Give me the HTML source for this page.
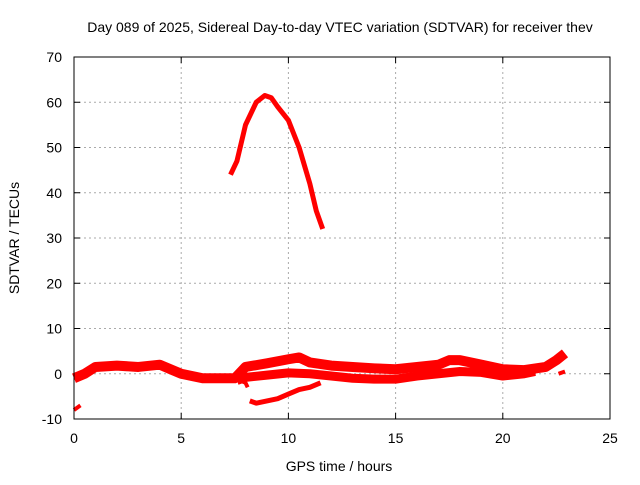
<!DOCTYPE html>
<html><head><meta charset="utf-8"><style>
body{margin:0;background:#fff}
svg{font-family:"Liberation Sans",sans-serif;font-size:14px}
</style></head><body>
<svg id="c" width="640" height="480">
<text x="340" y="32" text-anchor="middle">Day 089 of 2025, Sidereal Day-to-day VTEC variation (SDTVAR) for receiver thev</text>
<text x="339" y="471" text-anchor="middle">GPS time / hours</text>
<text transform="translate(19,238) rotate(-90)" text-anchor="middle">SDTVAR / TECUs</text>
<g id="grid"></g><g id="marks"></g>
<rect x="74" y="57" width="536" height="362" fill="none" stroke="#000"/>
</svg>
<script>
const xTicks=[0,5,10,15,20,25];
const yTicks=[-10,0,10,20,30,40,50,60,70];
const peakX=[7.3,7.6,8.0,8.5,8.9,9.2,9.5,10.0,10.5,11.0,11.3,11.6];
const peakY=[44,47,55,60,61.5,61,59,56,50,42,36,32];
const bandX=[0,0.5,1,2,3,4,4.5,5,6,7,7.5,8,9,10,10.5,11,12,13,14,15,16,17,17.5,18,19,20,21,22,22.5,22.9];
const bandY=[-1,0,1.5,1.8,1.5,2,1,0,-1,-1,-1,1.5,2.3,3.2,3.6,2.5,1.8,1.5,1.2,1,1.5,2,3,3,2,1,0.8,1.5,3,4.5];
const band2X=[7.6,8,9,10,11,12,13,14,15,16,17,18,19,20,21,21.5];
const band2Y=[-1.5,-0.8,-0.3,0.2,0,-0.5,-1,-1.2,-1.2,-0.5,0,0.5,0.3,-0.5,0,0.5];
const lowX=[8.2,8.5,9,9.5,10,10.5,11,11.5];
const lowY=[-6,-6.5,-6,-5.5,-4.5,-3.5,-3,-2];
const dip1X=[7.5,8.0,8.1];const dip1Y=[-1,-2,-3];
const dash1X=[0,0.3];const dash1Y=[-8,-7];
const dash2X=[22.6,22.9];const dash2Y=[0,0.5];
const X=v=>74+v*536/25, Y=v=>373.75-v*4.525;
const ns="http://www.w3.org/2000/svg";
const g=document.getElementById('grid'), m=document.getElementById('marks');
function mk(t,a,p){const e=document.createElementNS(ns,t);for(const k in a)e.setAttribute(k,a[k]);p.appendChild(e);return e;}
xTicks.forEach(t=>{const x=X(t);
 if(t>0&&t<25){const l=mk('line',{x1:x,x2:x,y1:57,y2:419,stroke:'#aaa','stroke-dasharray':'2,3'},g);
 
 }
 mk('line',{x1:x,x2:x,y1:419,y2:413,stroke:'#000'},g);mk('line',{x1:x,x2:x,y1:57,y2:63,stroke:'#000'},g);
 const tx=mk('text',{x:x,y:443,'text-anchor':'middle'},g);tx.textContent=t;
 
 });
yTicks.forEach(t=>{const y=Y(t);
 if(t>-10&&t<70){const l=mk('line',{x1:74,x2:610,y1:y,y2:y,stroke:'#aaa','stroke-dasharray':'2,3'},g);
 
 }
 mk('line',{x1:74,x2:80,y1:y,y2:y,stroke:'#000'},g);mk('line',{x1:604,x2:610,y1:y,y2:y,stroke:'#000'},g);
 const tx=mk('text',{x:62,y:y+5,'text-anchor':'end'},g);tx.textContent=t;
 
 });
function series(xs,ys,w,name){const p=mk('polyline',{points:xs.map((x,i)=>X(x)+','+Y(ys[i])).join(' '),fill:'none',stroke:'#f00','stroke-width':w,'stroke-linejoin':'round'},m);
 
 }
series(peakX,peakY,5,'peak-series');
series(bandX,bandY,10,'main-band-series');
series(band2X,band2Y,9,'lower-band-series');
series(lowX,lowY,5,'low-track-series');
series(dip1X,dip1Y,4,'dip-series');
series(dash1X,dash1Y,4,'start-dash-series');
series(dash2X,dash2Y,4,'end-dash-series');
</script>
</body></html>
